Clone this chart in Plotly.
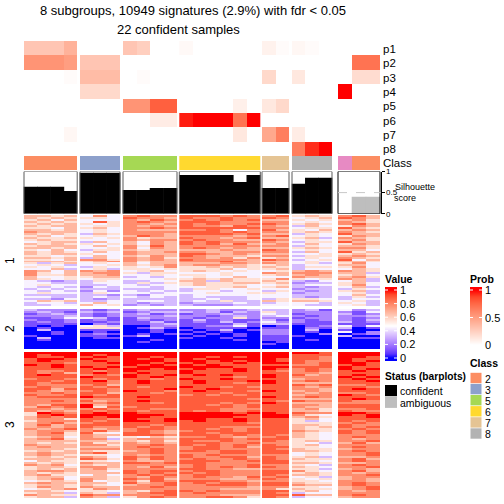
import plotly.graph_objects as go

group_sizes = [4, 3, 4, 6, 2, 3, 3]
class_ids = [2,2,2,2, 3,3,3, 5,5,5,5, 6,6,6,6,6,6, 7,7, 8,8,8, 4,2,2]
class_colors = {2:"#FC8D62",3:"#8DA0CB",4:"#E78AC3",5:"#A6D854",6:"#FFD92F",7:"#E5C494",8:"#B3B3B3"}
class_legend = [2,3,5,6,7,8]
row_names = ["p1","p2","p3","p4","p5","p6","p7","p8"]
value_ticks = [0, .2, .4, .6, .8, 1]
value_tick_labels = ["0", "0.2", "0.4", "0.6", "0.8", "1"]
prob_ticks = [0, .5, 1]
prob_tick_labels = ["0", "0.5", "1"]

prob = [
 [.30,.30,.30,.40, 0,0,0, .30,.25,0,0, .03,0,0,0,0,0, .07,.02, .04,.02,0, 0,0,0],
 [.55,.55,.55,.50, .30,.30,.30, 0,0,0,0, 0,0,0,0,0,0, 0,0, 0,0,0, 0,.70,.70],
 [0,0,0,.02, .35,.35,.35, 0,.02,0,0, 0,0,0,0,0,0, .20,0, .12,0,0, 0,.18,.18],
 [0,0,0,0, .20,.20,.20, 0,0,0,0, 0,0,0,0,0,0, 0,0, 0,0,0, 1,0,0],
 [0,0,0,0, 0,0,0, .55,.55,.78,.78, 0,0,0,0,.08,0, .12,.20, 0,0,0, 0,0,0],
 [0,0,0,0, 0,0,0, 0,0,.10,.10, .95,1,1,1,.70,1, 0,0, 0,0,0, 0,0,0],
 [0,0,0,.04, 0,0,0, 0,0,0,0, 0,0,0,0,.12,0, .45,.65, .10,0,0, 0,0,0],
 [0,0,0,0, 0,0,0, 0,0,0,0, 0,0,0,0,0,0, 0,0, .65,.92,1, 0,0,0],
]

silhouette = [.64,.64,.64,.54, .97,.97,.97, .56,.56,.61,.61, .92,.92,.92,.92,.75,.92, .61,.61, .71,.85,.85, 0,.40,.40]
confident = [1]*22 + [0]*3

# value digits: d/9
section1 = """
6656 474 7877 888787 78 565 786
6565 554 8776 877877 87 456 876
5646 444 7687 787878 66 545 675
6565 485 7876 888777 77 454 765
5656 545 7767 878778 87 565 786
6566 455 7676 877687 76 364 576
5546 564 7787 888888 77 455 865
6656 454 7666 778747 86 546 676
7666 454 7777 888787 77 565 765
6565 365 7776 888878 66 354 866
5645 454 6876 777767 78 454 576
6556 545 7566 877678 66 563 765
5655 444 7677 787766 87 454 675
4566 364 6476 878777 76 355 866
6565 545 6476 878686 67 464 576
5666 464 7586 777777 77 354 665
6656 445 7476 787676 66 565 775
5464 355 6566 666766 87 454 664
6565 464 7667 776677 77 364 856
6566 544 7666 887676 66 445 565
5545 464 6576 876665 77 355 676
6656 364 7675 776757 56 454 765
5546 775 7676 877776 87 345 846
6665 567 7566 777866 66 454 665
5356 454 6466 666776 76 453 574
4543 445 6567 677665 56 344 664
5454 354 5457 556565 65 355 574
4463 453 5545 555645 56 344 465
7646 767 4564 565454 45 676 765
7546 677 5355 444544 76 777 663
7556 667 4454 554544 56 676 564
6445 566 3434 454464 44 766 675
6545 455 4445 565655 57 545 763
4323 354 3344 663655 65 324 463
4433 344 3535 565566 56 233 564
4544 334 4344 565554 45 344 574
4343 243 4434 445564 56 323 463
3434 333 3334 355445 44 233 354
4343 242 4343 344344 35 323 563
4544 354 4434 445445 54 233 453
3333 332 3244 344444 44 333 464
4433 343 4343 343334 44 323 353
3324 323 3333 334334 35 554 344
4656 334 3443 343533 65 665 453
3443 464 3233 233343 34 443 543
3344 645 2323 322233 44 433 453
"""
section2 = """
3222 212 2322 223223 33 231 423
2321 323 1233 323132 53 222 214
1232 212 2312 122322 43 122 312
2223 212 2223 221232 34 212 223
1124 431 1322 212252 22 122 212
2112 121 1212 131211 31 212 213
1212 112 1131 121312 42 211 312
1111 021 1123 111131 33 111 111
1010 453 0022 112241 01 012 414
0100 555 0131 011110 11 021 301
0300 111 0010 101301 22 030 100
0010 010 0010 010100 22 010 402
0010 121 0101 101010 22 002 012
1000 110 1300 010010 11 100 300
0300 011 0000 100100 11 000 011
0100 000 0010 000010 11 010 000
0000 000 0100 000000 01 000 000
0000 000 0000 000000 10 000 000
0000 000 0000 000000 00 000 000
0000 000 0000 000000 00 000 000
"""
section3 = """
9999 999 9999 999999 99 998 999
9899 989 9999 999999 99 888 999
9889 898 9989 998989 99 887 998
8998 988 9898 989999 98 887 988
8988 898 9998 998989 98 877 989
8887 889 9989 898898 99 878 998
9898 888 9898 989888 88 778 898
8898 989 8999 999988 99 888 988
8888 898 9989 898898 98 787 989
8778 878 9888 988898 87 787 898
8786 898 8988 988888 88 776 888
8988 787 9889 898988 98 867 898
8888 988 9898 888878 98 777 989
7887 878 8878 988988 88 677 898
8878 897 8988 898889 98 787 889
8788 887 8988 898878 98 666 888
8777 786 8888 888888 88 878 778
7877 878 8788 988787 88 767 887
8868 887 8889 889888 88 776 898
8767 787 9887 898887 98 676 888
7787 886 8878 888788 88 767 778
8778 878 8888 787878 88 677 987
7888 988 8988 888888 98 787 888
7777 777 8888 888887 88 666 898
7787 867 8988 888888 87 877 877
7777 778 8878 888787 98 666 777
7688 967 8888 887878 88 776 888
6878 958 7888 888878 88 766 888
7767 787 8877 888777 88 675 778
7676 878 8788 878778 88 665 877
5987 898 9888 999989 98 877 998
5898 999 9998 999998 99 754 989
6878 989 9988 999988 99 675 889
6775 887 9889 998898 88 564 888
5777 878 9989 898898 88 534 878
6786 788 8888 888887 88 555 787
6867 888 8878 888888 88 665 877
6767 877 8787 888777 88 656 878
7678 767 7887 887878 88 655 787
6776 786 7876 788878 88 765 878
6785 854 8876 887888 88 654 878
6775 766 8887 888787 87 654 777
5674 764 5465 778767 78 654 787
6785 773 6776 888878 88 554 767
6666 665 6575 877877 87 565 778
6565 756 7676 888778 77 543 686
7666 775 7787 878787 87 564 777
6766 666 7877 788786 88 554 787
6665 777 7787 788777 87 655 677
5656 655 6787 887887 88 665 787
6766 785 7787 777887 88 454 778
6765 554 7677 878777 77 454 778
5656 764 8787 877886 87 563 667
6665 875 8687 787787 87 655 786
4655 554 7667 888778 88 554 787
6565 766 8878 887777 88 665 667
7674 656 7777 787778 77 543 787
5665 776 7686 787878 87 654 778
5656 675 7777 887766 77 553 676
6776 664 8788 788777 88 754 786
6565 666 8787 878777 88 565 767
6755 464 7878 788777 87 665 778
5664 665 7687 787768 78 453 677
5674 765 8786 777667 87 545 676
4565 745 7587 888776 77 554 776
6766 664 8678 787887 88 655 787
5665 654 6778 778887 88 766 787
5765 766 7787 777776 77 554 678
4567 576 7777 777666 75 655 678
6654 554 6578 878777 88 564 767
5663 653 6788 787777 87 344 777
7655 877 7778 777666 88 866 787
5663 763 5787 778875 87 344 677
"""

def parse(txt):
    return [[int(c)/9 for c in line.replace(" ", "")] for line in txt.strip().splitlines()]
sections = [(parse(section1), 215, 306), (parse(section2), 309, 349), (parse(section3), 352, 498)]

W = H = 504

# LAB interpolation like the original colour ramps
def rgb2lab(c):
    def f(u):
        u /= 255
        return ((u+0.055)/1.055)**2.4 if u > 0.04045 else u/12.92
    r, g, b = map(f, c)
    X = (.4124*r+.3576*g+.1805*b)/.95047
    Y = .2126*r+.7152*g+.0722*b
    Z = (.0193*r+.1192*g+.9505*b)/1.08883
    t = lambda v: v**(1/3) if v > .008856 else 7.787*v+16/116
    return 116*t(Y)-16, 500*(t(X)-t(Y)), 200*(t(Y)-t(Z))
def lab2rgb(L, a, b):
    fy = (L+16)/116; fx = fy+a/500; fz = fy-b/200
    t = lambda v: v**3 if v**3 > .008856 else (v-16/116)/7.787
    X, Y, Z = t(fx)*.95047, t(fy), t(fz)*1.08883
    r = 3.2406*X-1.5372*Y-.4986*Z
    g = -.9689*X+1.8758*Y+.0415*Z
    bb = .0557*X-.2040*Y+1.0570*Z
    def e(u):
        u = max(0, min(1, u))
        u = 1.055*u**(1/2.4)-.055 if u > .0031308 else 12.92*u
        return round(u*255)
    return f"rgb({e(r)},{e(g)},{e(bb)})"
def ramp(stops, n=8):
    out = [[stops[0][0], lab2rgb(*rgb2lab(stops[0][1]))]]
    for (v0, c0), (v1, c1) in zip(stops, stops[1:]):
        l0, l1 = rgb2lab(c0), rgb2lab(c1)
        for i in range(1, n+1):
            k = i/n
            out.append([v0+(v1-v0)*k, lab2rgb(*[p+(q-p)*k for p, q in zip(l0, l1)])])
    return out

BLUE, WHITE, RED = (0,0,255), (255,255,255), (255,0,0)
value_scale = ramp([(0,BLUE),(0.47,WHITE),(1,RED)])
prob_scale = ramp([(0,WHITE),(1,RED)])

# group layout in pixels
group_left = [24, 80, 123, 179.3, 262, 292, 338]
col_w = [13.3, 13.33, 13.5, 13.5, 13.5, 13.33, 14]

def edges(g):
    return [group_left[g]+col_w[g]*i for i in range(group_sizes[g]+1)]

fig = go.Figure()
start = 0
centers, widths = [], []
TOP0, TOP1 = 41, 155.5
row_h = (TOP1-TOP0)/len(row_names)
for g, n in enumerate(group_sizes):
    xe = edges(g)
    ye = [TOP0+row_h*i for i in range(len(row_names)+1)]
    fig.add_trace(go.Heatmap(z=[r[start:start+n] for r in prob], x=xe, y=ye, coloraxis="coloraxis2", hoverinfo="skip"))
    cs = [[(k-2)/6, class_colors[k]] for k in sorted(class_colors)]
    fig.add_trace(go.Heatmap(z=[class_ids[start:start+n]], x=xe, y=[156, 170.3], zmin=2, zmax=8,
                             colorscale=cs, showscale=False, hoverinfo="skip"))
    for z, y0, y1 in sections:
        ye = [y0+(y1-y0)*i/len(z) for i in range(len(z)+1)]
        fig.add_trace(go.Heatmap(z=[r[start:start+n] for r in z], x=xe, y=ye, coloraxis="coloraxis", hoverinfo="skip"))
    for i in range(n):
        centers.append((xe[i]+xe[i+1])/2)
        widths.append(col_w[g]+0.6)
    start += n

fig.add_trace(go.Bar(x=centers, y=silhouette, width=widths, yaxis="y2",
                     marker=dict(color=["#000000" if c else "#BEBEBE" for c in confident], line_width=0),
                     hoverinfo="skip"))

def py(v):
    return 1-v/H
def px(v):
    return v/W

shapes = []
for g in range(len(group_sizes)):
    xe = edges(g)
    shapes.append(dict(type="rect", xref="x", yref="y2", x0=xe[0], x1=xe[-1], y0=0, y1=1,
                       line=dict(color="#000000" if g == 6 else "#5a5a5a", width=1)))
shapes.append(dict(type="line", xref="x", yref="y2", x0=338, x1=381, y0=.5, y1=.5,
                   line=dict(color="#C8C8C8", width=1, dash="dash")))

annotations = []
def text(x, y, s, size=12, anchor="left", bold=False, angle=0):
    annotations.append(dict(x=px(x), y=py(y), xref="paper", yref="paper", text=f"<b>{s}</b>" if bold else s,
                            showarrow=False, xanchor=anchor, yanchor="middle", textangle=angle,
                            font=dict(size=size, color="black"), borderpad=0, borderwidth=0))

text(192.5, 10, "8 subgroups, 10949 signatures (2.9%) with fdr &lt; 0.05", 13, "center")
text(178, 29, "22 confident samples", 13, "center")
for i, nm in enumerate(row_names):
    text(382.5, TOP0+row_h*(i+.5)+1, nm, 11.5)
text(382.5, 163, "Class", 11.5)
text(395, 187, "Silhouette", 9)
text(394, 198, "score", 9)
text(10, 261, "1", 12, "center", angle=-90)
text(10, 329, "2", 12, "center", angle=-90)
text(10, 425, "3", 12, "center", angle=-90)
text(385, 279, "Value", 10.5, bold=True)
text(470, 279, "Prob", 10.5, bold=True)
text(385, 376, "Status (barplots)", 10.2, bold=True)
text(470, 363, "Class", 10.5, bold=True)

for i, (nm, c) in enumerate([("confident", "#000000"), ("ambiguous", "#BEBEBE")]):
    y0 = 385+11.7*i
    shapes.append(dict(type="rect", xref="x", yref="y", x0=385, x1=397, y0=y0, y1=y0+11.2, fillcolor=c, line_width=0))
    text(400, y0+5.8, nm, 10.5)
for i, k in enumerate(class_legend):
    y0 = 372.8+11.1*i
    shapes.append(dict(type="rect", xref="x", yref="y", x0=470.5, x1=481.5, y0=y0, y1=y0+10.4,
                       fillcolor=class_colors[k], line_width=0))
    text(485, y0+6, str(k), 10.5)

# colour keys, drawn as heatmaps through the same colour axes
def key(x0, y_one, y_zero, y_top, y_bot, ticks, labels, axis):
    unit = y_zero-y_one
    ye = list(range(y_top, y_bot+1))
    zz = [[max(0, min(1, (y_zero-(y+.5))/unit))] for y in ye[:-1]]
    fig.add_trace(go.Heatmap(z=zz, x=[x0, x0+12], y=ye, coloraxis=axis, hoverinfo="skip"))
    for v, lab in zip(ticks, labels):
        y = y_zero-v*unit
        for a, b in ((x0, x0+3), (x0+9, x0+12)):
            shapes.append(dict(type="line", xref="x", yref="y", x0=a, x1=b, y0=y, y1=y, line=dict(color="white", width=1)))
        text(x0+15, y, lab, 11)

key(385, 290, 358, 287, 361, value_ticks, value_tick_labels, "coloraxis")
key(470, 290, 345, 287, 348, prob_ticks, prob_tick_labels, "coloraxis2")

fig.update_layout(
    width=W, height=H, autosize=False, margin=dict(l=0, r=0, t=0, b=0, pad=0, autoexpand=False),
    paper_bgcolor="white", plot_bgcolor="white", showlegend=False, barmode="overlay",
    font=dict(family="Liberation Sans, Arial, sans-serif", color="black"),
    xaxis=dict(range=[0, W], domain=[0, 1], visible=False, fixedrange=True),
    yaxis=dict(range=[H, 0], domain=[0, 1], visible=False, fixedrange=True),
    yaxis2=dict(range=[0, 1], domain=[py(213.7), py(171.5)], anchor="free",
                position=px(380.5), side="right", tickvals=[0, .5, 1], ticktext=["0", "0.5", "1"],
                showgrid=False, zeroline=False, ticks="outside", ticklen=3, tickcolor="black",
                tickfont=dict(size=8, color="black"), showline=True, linecolor="black", linewidth=0),
    coloraxis=dict(colorscale=[[s[0], s[1]] for s in value_scale], cmin=0, cmax=1, showscale=False),
    coloraxis2=dict(colorscale=[[s[0], s[1]] for s in prob_scale], cmin=0, cmax=1, showscale=False),
    shapes=shapes, annotations=annotations,
)

fig.write_html("out.html", config={"displayModeBar": False},
               post_script="document.body.style.margin='0';document.documentElement.style.overflow='hidden';")
